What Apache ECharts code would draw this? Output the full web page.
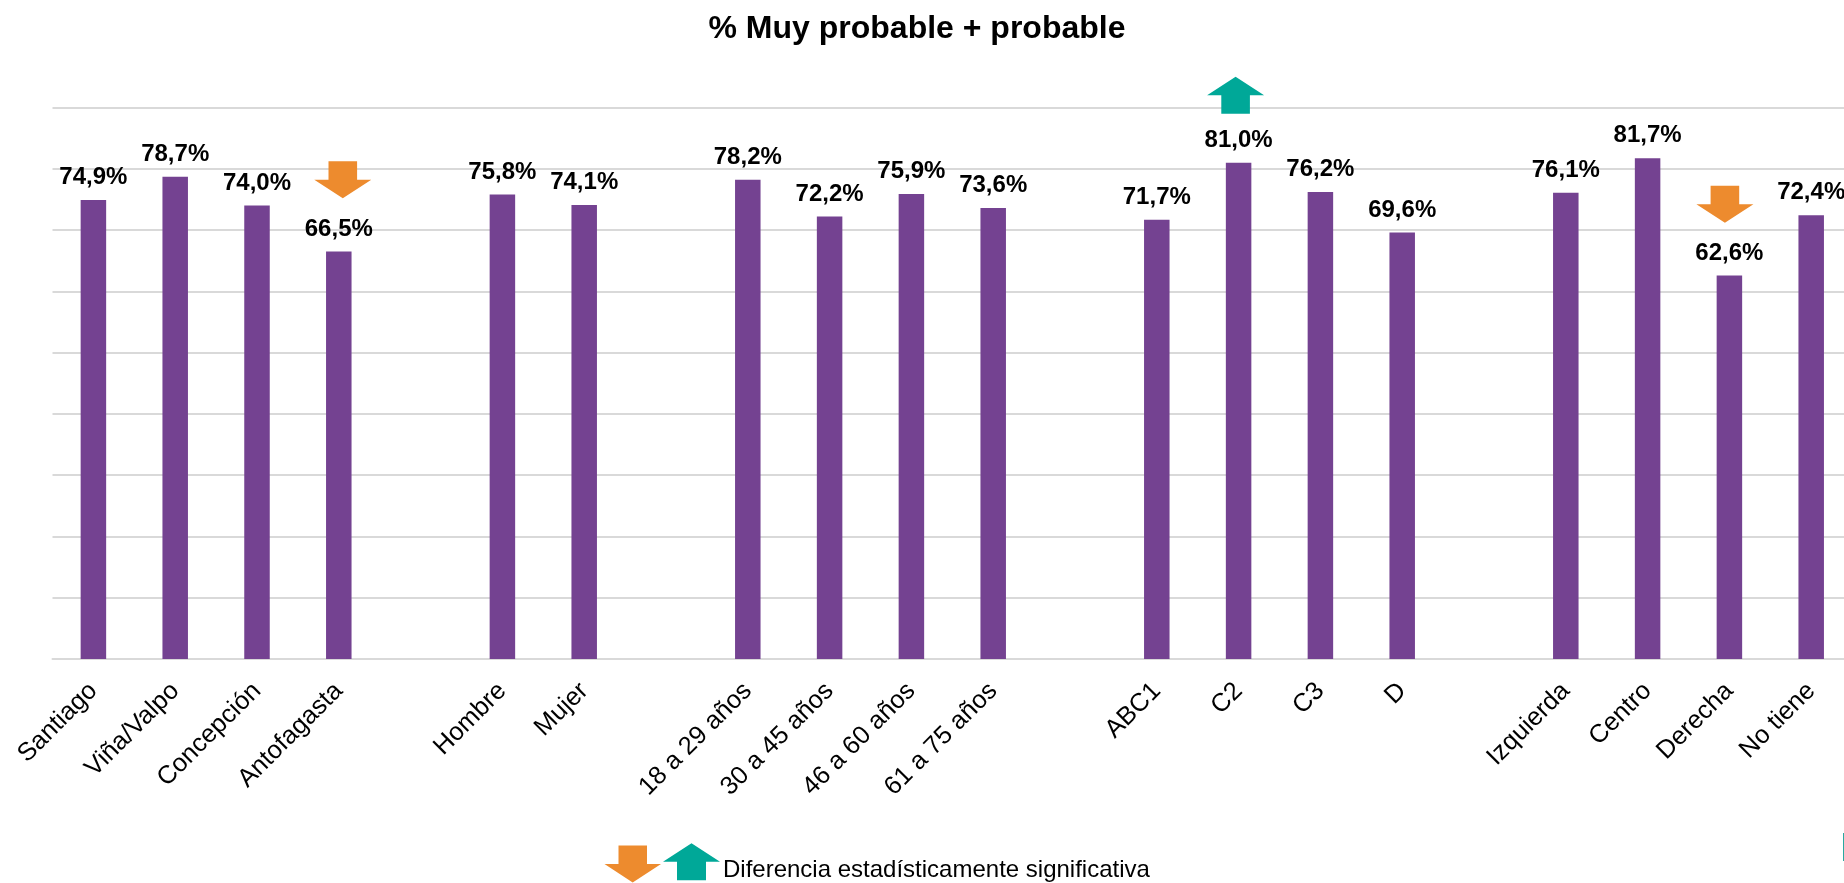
<!DOCTYPE html>
<html>
<head>
<meta charset="utf-8">
<style>html,body{margin:0;padding:0;background:#fff;overflow:hidden}#c{width:1844px;height:883px}</style>
<script src="https://cdn.jsdelivr.net/npm/echarts@6/dist/echarts.min.js"></script>
</head>
<body>
<div id="c"></div>
<script>
const categories = ['Santiago','Viña/Valpo','Concepción','Antofagasta','','Hombre','Mujer','','18 a 29 años','30 a 45 años','46 a 60 años','61 a 75 años','','ABC1','C2','C3','D','','Izquierda','Centro','Derecha','No tiene'];
const values = [74.9,78.7,74.0,66.5,null,75.8,74.1,null,78.2,72.2,75.9,73.6,null,71.7,81.0,76.2,69.6,null,76.1,81.7,62.6,72.4];
// Significance arrows: category, height on the value axis
const downArrows = [['Antofagasta',78.2],['Derecha',74.2]];
const upArrows = [['C2',92.0]];
const titleText = '% Muy probable + probable';
const noteText = 'Diferencia estadísticamente significativa';

const PURPLE='#744291', ORANGE='#ED8B2E', TEAL='#00A898', GRID='#D9D9D9';
const FONT='"Liberation Sans", Arial, sans-serif';
const DOWN='path://M14.2,0 L42.8,0 L42.8,18.5 L57,18.5 L28.5,37 L0,18.5 L14.2,18.5 Z';
const UP='path://M28.5,0 L57,18.5 L42.8,18.5 L42.8,37 L14.2,37 L14.2,18.5 L0,18.5 Z';
const arrowNudge = {Antofagasta:4, Derecha:-4.5, C2:-3};
const arrowData = list => list.map(d => ({value:d, symbolOffset:[arrowNudge[d[0]],0]}));

const chart = echarts.init(document.getElementById('c'), null, {renderer:'canvas'});
chart.setOption({
  animation:false,
  backgroundColor:'#fff',
  title:{text:titleText,left:912,top:8,textAlign:'center',
    textStyle:{fontFamily:FONT,fontSize:32,fontWeight:'bold',color:'#000'}},
  grid:{left:52.5,top:107.5,width:1799.6,height:551.5,containLabel:false,outerBoundsMode:'none'},
  xAxis:{type:'category',data:categories,
    axisTick:{show:false},
    axisLine:{lineStyle:{color:GRID,width:2}},
    axisLabel:{interval:0,rotate:45,margin:28,fontFamily:FONT,fontSize:25.5,color:'#000'}},
  yAxis:{type:'value',min:0,max:90,interval:10,
    axisLabel:{show:false},axisTick:{show:false},axisLine:{show:false},
    splitLine:{lineStyle:{color:GRID,width:2}}},
  series:[
    {type:'bar',data:values,barWidth:25.5,itemStyle:{color:PURPLE},
     label:{show:true,position:'top',distance:10.5,fontFamily:FONT,fontSize:24,fontWeight:'bold',color:'#000',
       formatter:p=>p.value.toFixed(1).replace('.',',')+'%'},z:3},
    {type:'scatter',clip:false,data:arrowData(downArrows),symbol:DOWN,symbolSize:[57,37],
     itemStyle:{color:ORANGE,opacity:1},silent:true,z:4,
     encode:{x:0,y:1},label:{show:false}},
    {type:'scatter',clip:false,data:arrowData(upArrows),symbol:UP,symbolSize:[57,37],
     itemStyle:{color:TEAL,opacity:1},silent:true,z:4,
     encode:{x:0,y:1},label:{show:false}}
  ],
  graphic:[
    {type:'polygon',shape:{points:[[618.5,845.5],[647,845.5],[647,864],[661,864],[632.7,882.5],[604.5,864],[618.5,864]]},style:{fill:ORANGE}},
    {type:'polygon',shape:{points:[[691.5,843.2],[720,861.7],[706,861.7],[706,880.2],[677,880.2],[677,861.7],[663,861.7]]},style:{fill:TEAL}},
    {type:'text',left:723,top:858,style:{text:noteText,fontFamily:FONT,fontSize:24,fill:'#000'}},
    {type:'rect',shape:{x:1843,y:833,width:1,height:28},style:{fill:'#2AA8A0'}}
  ]
});
</script>
</body>
</html>
